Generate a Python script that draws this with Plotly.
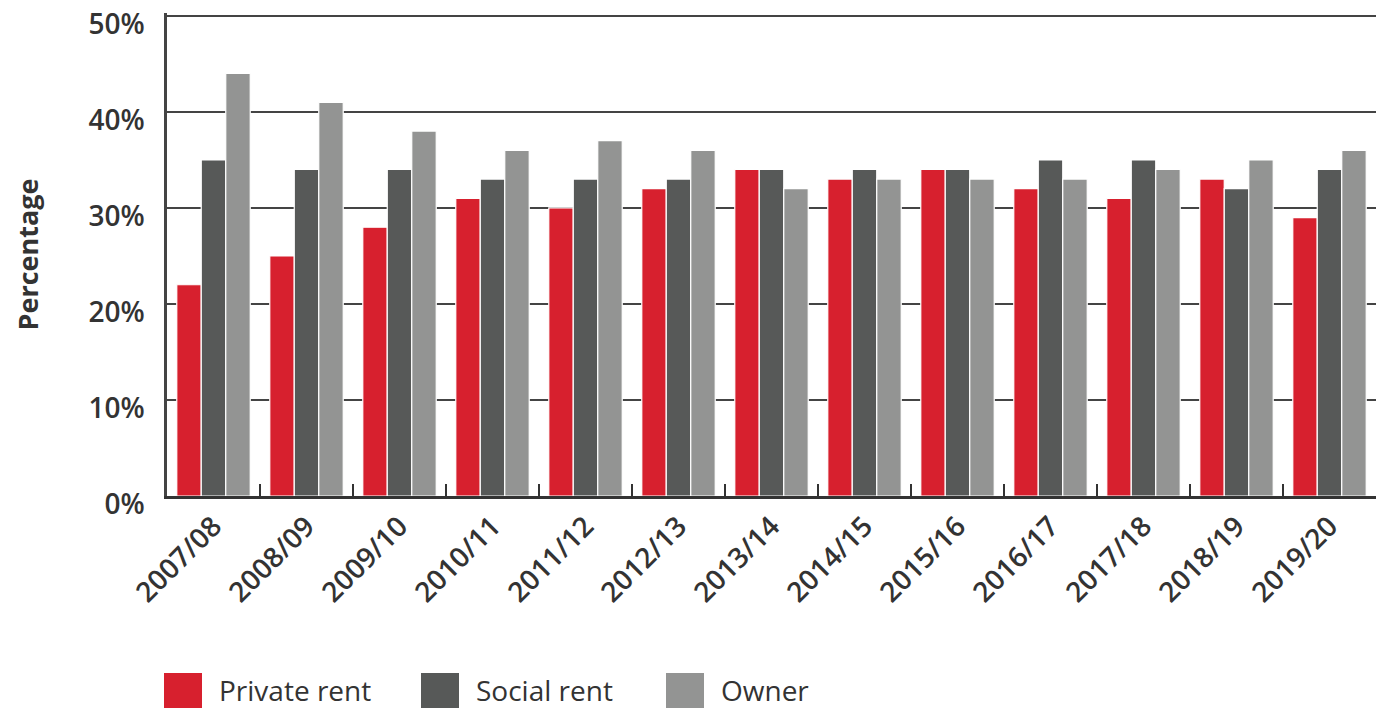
import plotly.graph_objects as go

years = ["2007/08", "2008/09", "2009/10", "2010/11", "2011/12", "2012/13", "2013/14",
         "2014/15", "2015/16", "2016/17", "2017/18", "2018/19", "2019/20"]
private_rent = [22, 25, 28, 31, 30, 32, 34, 33, 34, 32, 31, 33, 29]
social_rent = [35, 34, 34, 33, 33, 33, 34, 34, 34, 35, 35, 32, 34]
owner = [44, 41, 38, 36, 37, 36, 32, 33, 33, 33, 34, 35, 36]
series_names = ["Private rent", "Social rent", "Owner"]
colors = ["#D7202E", "#575958", "#939493"]
y_ticks = [0, 10, 20, 30, 40, 50]

FONT = "Open Sans"
TXT = "#333333"

YMAX = 50.3
W, H = 1376, 708
L, R, B = 167, 0, 212
T = round(16 - 480 * (YMAX - 50) / 50, 1)
PW, PH = W - L - R, H - T - B


def px(x):
    return (x - L) / PW


def py(y):
    return (H - B - y) / PH


fig = go.Figure()
for name, vals, col in zip(series_names, [private_rent, social_rent, owner], colors):
    fig.add_trace(go.Bar(x=years, y=vals, name=name, marker_color=col,
                         marker_line=dict(color="white", width=1.2), showlegend=False))

fig.update_layout(
    width=W, height=H,
    margin=dict(l=L, r=R, t=T, b=B),
    plot_bgcolor="white", paper_bgcolor="white",
    barmode="group", bargap=0.21, bargroupgap=0,
    font=dict(family=FONT, color=TXT),
    xaxis=dict(type="category", tickson="boundaries", ticks="inside", ticklen=12,
               tickwidth=2, tickcolor="#333", showline=True, linecolor="#333", linewidth=2.5,
               tickangle=-45, tickfont=dict(size=28, family=FONT, color=TXT, weight=600),
               showgrid=False, range=[-0.5, 12.5]),
    yaxis=dict(range=[0, YMAX], tickvals=y_ticks, ticktext=[f"{v}%" for v in y_ticks],
               showgrid=True, gridcolor="#444", gridwidth=1.6, showline=True,
               linecolor="#444", linewidth=2.5, ticks="", ticklen=0,
               ticklabelstandoff=14, ticklabelshift=8,
               tickfont=dict(size=28, family=FONT, color=TXT, weight=600),
               zeroline=False,
               title=dict(text="Percentage", standoff=42,
                          font=dict(size=27, family=FONT, color=TXT, weight=700))),
)

# manual legend
legend_x = [164, 421, 666]
for name, col, lx in zip(series_names, colors, legend_x):
    fig.add_shape(type="rect", xref="paper", yref="paper",
                  x0=px(lx), x1=px(lx + 38), y0=py(712), y1=py(673),
                  line_width=0, fillcolor=col)
    fig.add_annotation(text=name, xref="paper", yref="paper",
                       x=px(lx + 53), y=py(690),
                       xanchor="left", yanchor="middle", showarrow=False,
                       font=dict(size=28, family=FONT, color=TXT, weight=500))

fig.write_html("out.html", config={"displayModeBar": False},
               post_script="document.body.style.margin='0px';")
